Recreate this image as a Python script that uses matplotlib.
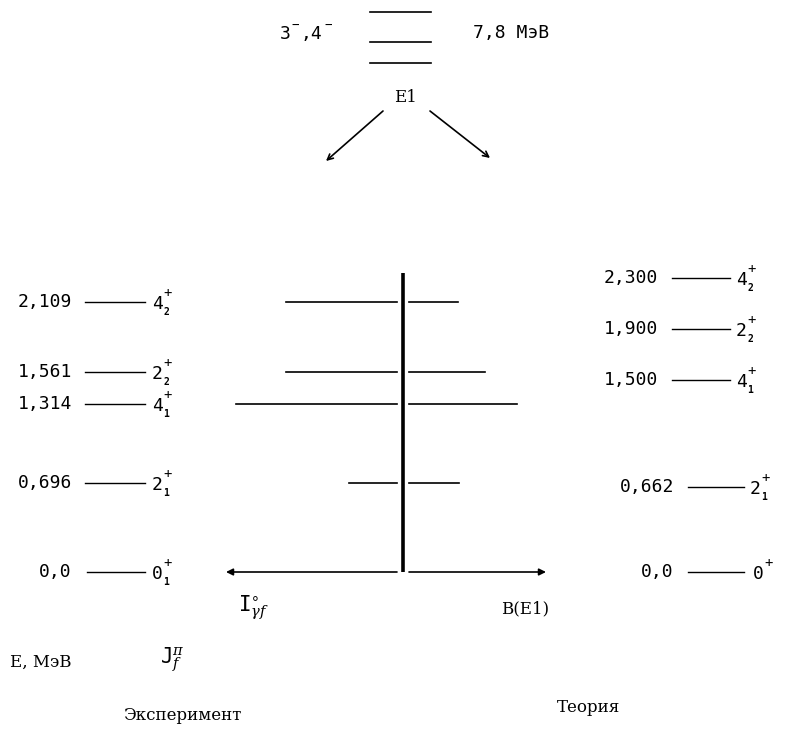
import matplotlib
matplotlib.use("Agg")
import matplotlib.pyplot as plt

plt.rcParams['mathtext.fontset'] = 'custom'
plt.rcParams['mathtext.rm'] = 'DejaVu Sans Mono'
plt.rcParams['mathtext.it'] = 'DejaVu Serif:italic'

# ---------------- data ----------------
exp_energies = [0.0, 0.696, 1.314, 1.561, 2.109]
exp_labels = ["0,0", "0,696", "1,314", "1,561", "2,109"]
exp_spins = ["0", "2", "4", "2", "4"]
exp_index = ["1", "1", "1", "2", "2"]

theory_energies = [0.0, 0.662, 1.500, 1.900, 2.300]
theory_labels = ["0,0", "0,662", "1,500", "1,900", "2,300"]
theory_spins = ["0", "2", "4", "2", "4"]
theory_index = ["", "1", "1", "2", "2"]

# transitions from the 7.8 MeV states to the excited levels (arbitrary units)
trans_energies = [0.696, 1.314, 1.561, 2.109]
intensity_exp = [1.0, 3.35, 2.31, 2.31]     # I_gamma_f (left)
b_e1 = [1.04, 2.25, 1.58, 1.02]            # B(E1) (right)

# ---------------- layout ----------------
W, H = 785, 732
px_per_mev = 128.0
zero_px = 572.0
fig = plt.figure(figsize=(W / 100, H / 100), dpi=100)
ax = fig.add_axes([0, 0, 1, 1])
ax.set_xlim(0, W)
ax.set_ylim((zero_px - H) / px_per_mev, zero_px / px_per_mev)
ax.axis('off')
lay = fig.add_axes([0, 0, 1, 1], facecolor='none')
lay.set_xlim(0, W)
lay.set_ylim(H, 0)
lay.axis('off')

num_font = dict(family='DejaVu Sans Mono', fontsize=13, color='black')
ser_font = dict(family='DejaVu Serif', fontsize=12, color='black')
lw_level = 1.0


def spin_label(x, e, s, i):
    ax.annotate(s, (x, e), xytext=(0, -2), textcoords='offset pixels',
                ha='left', va='center', **num_font)
    ax.annotate('+', (x, e), xytext=(11, 9), textcoords='offset pixels',
                ha='left', va='center', family='DejaVu Sans Mono', fontsize=10)
    if i:
        ax.annotate(i, (x, e), xytext=(11, -10), textcoords='offset pixels',
                    ha='left', va='center', family='DejaVu Sans Mono',
                    fontsize=7, fontweight='bold')


# experimental levels
for e, lab, s, i in zip(exp_energies, exp_labels, exp_spins, exp_index):
    x0 = 87 if e == 0 else 85
    ax.plot([x0, 145], [e, e], color='black', lw=lw_level)
    ax.text(72, e, lab, ha='right', va='center', **num_font)
    spin_label(152, e, s, i)

# theoretical levels
for e, lab, s, i in zip(theory_energies, theory_labels, theory_spins, theory_index):
    x0, x1 = (672, 730) if e > 1.0 else (688, 744)
    ax.plot([x0, x1], [e, e], color='black', lw=lw_level)
    ax.text(x0 - 14, e, lab, ha='right', va='center', **num_font)
    spin_label(x1 + (6 if i else 9), e, s, i)

# central intensity diagram
xc = 403
unit_px = 48
gap = 6
top_axis = max(exp_energies) + 0.23
ax.plot([xc, xc], [0, top_axis], color='black', lw=2.6, solid_capstyle='butt')
for e, iv, bv in zip(trans_energies, intensity_exp, b_e1):
    ax.plot([xc - gap, xc - gap - iv * unit_px], [e, e], color='black', lw=1.2)
    ax.plot([xc + gap, xc + gap + bv * unit_px], [e, e], color='black', lw=1.2)
ax.annotate('', xy=(226, 0), xytext=(xc - gap, 0),
            arrowprops=dict(arrowstyle='-|>', color='black', lw=1.2,
                            mutation_scale=10, shrinkA=0, shrinkB=0))
ax.annotate('', xy=(546, 0), xytext=(xc + gap, 0),
            arrowprops=dict(arrowstyle='-|>', color='black', lw=1.2,
                            mutation_scale=10, shrinkA=0, shrinkB=0))

# top: initial states
for yp in [12, 42, 63]:
    lay.plot([370, 431], [yp, yp], color='black', lw=1.2)
lay.text(280, 34, "3", ha='left', va='center', **num_font)
lay.text(291, 25, "\u2212", ha='left', va='center', family='DejaVu Sans Mono', fontsize=9)
lay.text(301, 34, ",4", ha='left', va='center', **num_font)
lay.text(324, 25, "\u2212", ha='left', va='center', family='DejaVu Sans Mono', fontsize=9)
lay.text(511, 33, "7,8 MэВ", ha='center', va='center', **num_font)
lay.text(405, 97, "E1", ha='center', va='center', **ser_font)
lay.annotate('', xy=(326, 161), xytext=(383, 111),
             arrowprops=dict(arrowstyle='->', color='black', lw=1.2,
                             mutation_scale=10, shrinkA=0, shrinkB=0))
lay.annotate('', xy=(490, 158), xytext=(430, 111),
             arrowprops=dict(arrowstyle='->', color='black', lw=1.2,
                             mutation_scale=10, shrinkA=0, shrinkB=0))

# bottom labels
lay.text(238, 608, r"$\mathrm{I}^{\circ}_{\gamma f}$", ha='left', va='center',
         family='DejaVu Serif', fontsize=15)
lay.text(525, 609, "B(E1)", ha='center', va='center', **ser_font)
lay.text(10, 662, "E, MэВ", ha='left', va='center', **ser_font)
lay.text(160, 660, r"$\mathrm{J}^{\pi}_{f}$", ha='left', va='center',
         family='DejaVu Serif', fontsize=15)
lay.text(182, 716, "Эксперимент", ha='center', va='center', **ser_font)
lay.text(589, 708, "Теория", ha='center', va='center', **ser_font)

fig.savefig("out.png", dpi=100)
